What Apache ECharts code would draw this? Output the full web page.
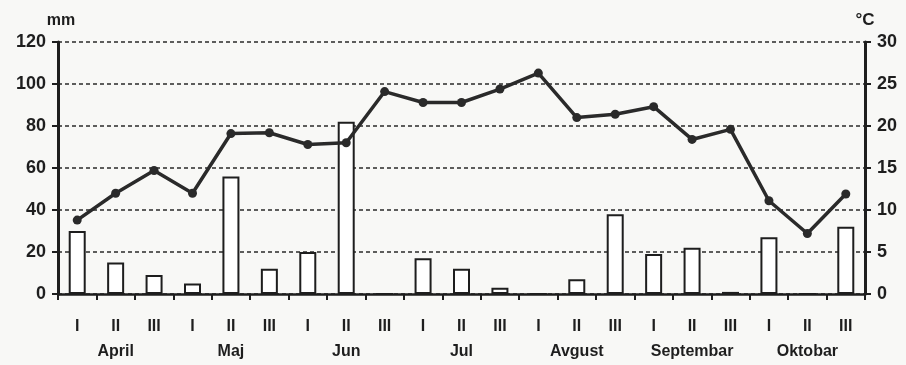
<!DOCTYPE html>
<html>
<head>
<meta charset="utf-8">
<script src="https://cdn.jsdelivr.net/npm/echarts@6/dist/echarts.min.js"></script>
<style>
html,body{margin:0;padding:0;background:#f8f8f6;}
#c{width:906px;height:365px;}
</style>
</head>
<body>
<div id="c"></div>
<script>
const months = ['April','Maj','Jun','Jul','Avgust','Septembar','Oktobar'];
const decades = ['I','II','III'];
const precipitation = [30,15,9, 5,56,12, 20,82,0, 17,12,3, 0,7,38, 19,22,1, 27,0,32];
const temperature = [8.8,12.0,14.7, 12.0,19.1,19.2, 17.8,18.0,24.1, 22.8,22.8,24.4, 26.3,21.0,21.4, 22.3,18.4,19.6, 11.1,7.2,11.9];
const mmTicks = {min:0, max:120, interval:20};
const cTicks = {min:0, max:30, interval:5};

const categories = [];
months.forEach(m => decades.forEach(d => categories.push(d + '|' + m)));

const ink = '#1e1e1e';
const font = 'Liberation Sans, Arial, sans-serif';

const chart = echarts.init(document.getElementById('c'));
chart.setOption({
  backgroundColor: '#f8f8f6',
  animation: false,
  grid: {left: 58, right: 41, top: 42, bottom: 71},
  xAxis: {
    type: 'category',
    data: categories,
    boundaryGap: true,
    axisLine: {lineStyle: {color: ink, width: 2.5}},
    axisTick: {show: true, length: 6, lineStyle: {color: ink, width: 2}},
    axisLabel: {
      interval: 0,
      margin: 20,
      color: ink,
      fontFamily: font,
      fontWeight: 'bold',
      fontSize: 16,
      lineHeight: 25,
      formatter: function (v) {
        const p = v.split('|');
        return p[0] === 'II' ? p[0] + '\n' + p[1] : p[0];
      }
    },
    splitLine: {show: false}
  },
  yAxis: [
    {
      type: 'value', min: mmTicks.min, max: mmTicks.max, interval: mmTicks.interval,
      position: 'left',
      name: 'mm', nameLocation: 'end', nameGap: 13,
      nameTextStyle: {color: ink, fontFamily: font, fontWeight: 'bold', fontSize: 16, align: 'center', padding: [0, 0, 0, 6]},
      axisLine: {show: true, lineStyle: {color: ink, width: 3}},
      axisTick: {show: true, length: 6, lineStyle: {color: ink, width: 2}},
      axisLabel: {color: ink, fontFamily: font, fontWeight: 'bold', fontSize: 18, margin: 12},
      splitLine: {show: true, lineStyle: {color: '#2a2a2a', width: 1.6, type: [4, 3]}}
    },
    {
      type: 'value', min: cTicks.min, max: cTicks.max, interval: cTicks.interval,
      position: 'right',
      name: '°C', nameLocation: 'end', nameGap: 13,
      nameTextStyle: {color: ink, fontFamily: font, fontWeight: 'bold', fontSize: 17, align: 'center'},
      axisLine: {show: true, lineStyle: {color: ink, width: 3}},
      axisTick: {show: true, length: 6, lineStyle: {color: ink, width: 2}},
      axisLabel: {color: ink, fontFamily: font, fontWeight: 'bold', fontSize: 18, margin: 12},
      splitLine: {show: false}
    }
  ],
  series: [
    {
      name: 'mm', type: 'bar', yAxisIndex: 0,
      data: precipitation,
      barWidth: 17,
      itemStyle: {color: '#ffffff', borderColor: ink, borderWidth: 2},
      z: 2
    },
    {
      name: '°C', type: 'line', yAxisIndex: 1,
      data: temperature,
      symbol: 'circle', symbolSize: 9,
      lineStyle: {color: '#2a2a2a', width: 3.5},
      itemStyle: {color: '#2a2a2a'},
      z: 3
    }
  ]
});
</script>
</body>
</html>
